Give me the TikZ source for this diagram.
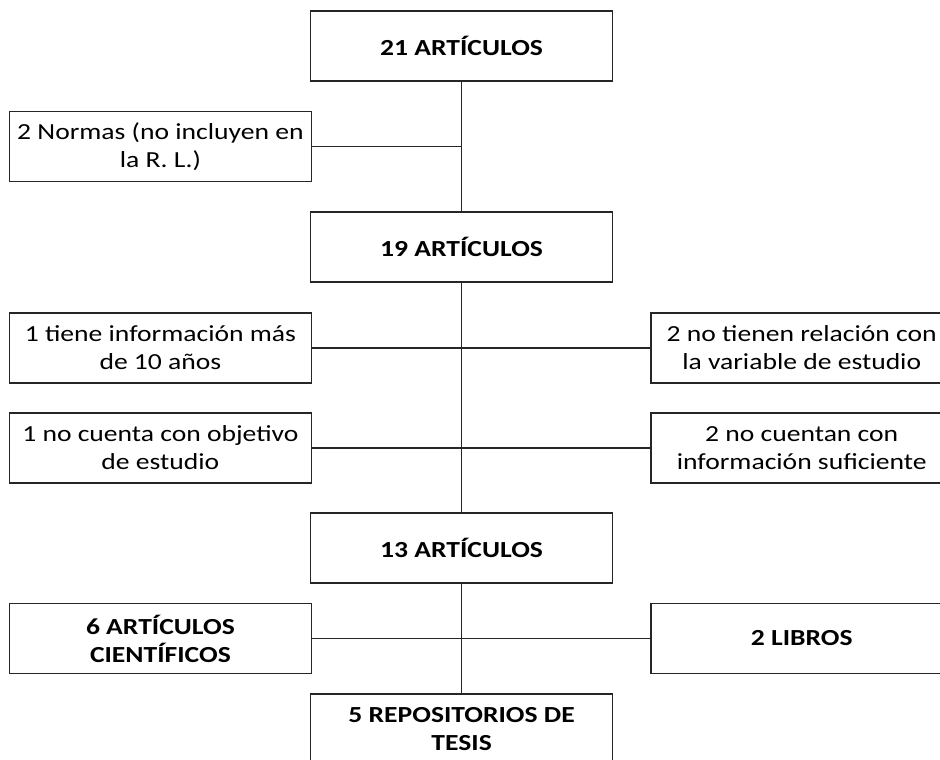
\documentclass[tikz,border=0pt]{standalone}
\usepackage{fontspec}
\setmainfont{Carlito}[FakeStretch=1.2]
\usetikzlibrary{positioning}

\begin{document}
\begin{tikzpicture}[x=1pt, y=-1pt,
    box/.style={draw=black!85, line width=1.7pt, fill=white, minimum width=302pt,
      minimum height=70pt, inner sep=0pt, align=center,
      font=\fontsize{23}{28}\selectfont},
    headbox/.style={box, font=\fontsize{23}{28}\selectfont\bfseries},
    link/.style={draw=black!85, line width=1.6pt}]
    \useasboundingbox (0,0) rectangle (940,760);
    % Main column of counts
    \node[headbox] (a21) at (461.6,46) {21 ARTÍCULOS};
    \node[headbox] (a19) at (461.6,247) {19 ARTÍCULOS};
    \node[headbox] (a13) at (461.6,548) {13 ARTÍCULOS};
    \node[headbox] (tesis) at (461.6,729) {5 REPOSITORIOS DE\\TESIS};
    % Excluded items
    \node[box] (normas) at (160.4,146.5) {2 Normas (no incluyen en\\la R. L.)};
    \node[box] (anios) at (160.4,348) {1 tiene información más\\de 10 años};
    \node[box] (relacion) at (801.7,348) {2 no tienen relación con\\la variable de estudio};
    \node[box] (objetivo) at (160.4,448) {1 no cuenta con objetivo\\de estudio};
    \node[box] (suficiente) at (801.7,448) {2 no cuentan con\\información suficiente};
    % Kinds of sources kept
    \node[headbox] (cientificos) at (160.4,638.5) {6 ARTÍCULOS\\CIENTÍFICOS};
    \node[headbox] (libros) at (801.7,638.5) {2 LIBROS};
    % Connectors
    \draw[link] (a21) -- (a19) -- (a13) -- (tesis);
    \draw[link] (normas) -- (normas -| a21);
    \draw[link] (anios) -- (relacion);
    \draw[link] (objetivo) -- (suficiente);
    \draw[link] (cientificos) -- (libros);
\end{tikzpicture}
\end{document}
